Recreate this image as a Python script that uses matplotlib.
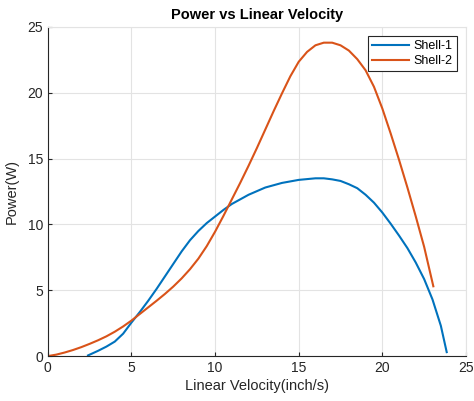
import matplotlib
matplotlib.use("Agg")
import matplotlib.pyplot as plt

plt.rcParams['font.family'] = ['Liberation Sans', 'DejaVu Sans']

# Shell-1 (blue)
v1 = [2.4, 3.0, 3.5, 4.0, 4.5, 5.0, 5.5, 6.0, 6.5, 7.0, 7.5, 8.0, 8.5, 9.0, 9.5,
      10.0, 10.5, 11.0, 11.5, 12.0, 13.0, 14.0, 15.0, 16.0, 16.5, 17.0, 17.5, 18.0,
      18.5, 19.0, 19.5, 20.0, 20.5, 21.0, 21.5, 22.0, 22.5, 23.0, 23.5, 23.85]
p1 = [0.05, 0.4, 0.72, 1.1, 1.7, 2.55, 3.35, 4.2, 5.1, 6.05, 7.0, 7.95, 8.8, 9.5, 10.1,
      10.6, 11.1, 11.55, 11.9, 12.25, 12.8, 13.15, 13.38, 13.5, 13.5, 13.42, 13.3, 13.05,
      12.75, 12.25, 11.65, 10.9, 10.05, 9.15, 8.2, 7.1, 5.85, 4.3, 2.3, 0.3]

# Shell-2 (orange)
v2 = [0, 0.5, 1.0, 1.5, 2.0, 2.5, 3.0, 3.5, 4.0, 4.5, 5.0, 5.5, 6.0, 6.5, 7.0, 7.5,
      8.0, 8.5, 9.0, 9.5, 10.0, 10.5, 11.0, 11.5, 12.0, 12.5, 13.0, 13.5, 14.0, 14.5,
      15.0, 15.5, 16.0, 16.5, 17.0, 17.5, 18.0, 18.5, 19.0, 19.5, 20.0, 20.5, 21.0,
      21.5, 22.0, 22.5, 23.05]
p2 = [0, 0.11, 0.27, 0.46, 0.68, 0.93, 1.2, 1.5, 1.85, 2.25, 2.7, 3.2, 3.7, 4.2, 4.72, 5.28,
      5.9, 6.6, 7.4, 8.35, 9.45, 10.65, 11.9, 13.15, 14.45, 15.8, 17.2, 18.6, 19.95, 21.25,
      22.35, 23.1, 23.6, 23.8, 23.8, 23.6, 23.2, 22.55, 21.7, 20.45, 18.8, 16.9, 14.9,
      12.8, 10.6, 8.3, 5.3]

fig = plt.figure(figsize=(4.74, 4.01), dpi=100)
ax = fig.add_axes([0.101, 0.112, 0.882, 0.821])

ax.plot(v1, p1, color='#0072BD', lw=1.5, label='Shell-1', solid_joinstyle='round')
ax.plot(v2, p2, color='#D95319', lw=1.5, label='Shell-2', solid_joinstyle='round')

ax.set_xlim(0, 25)
ax.set_ylim(0, 25)
ax.set_xticks([0, 5, 10, 15, 20, 25])
ax.set_yticks([0, 5, 10, 15, 20, 25])
ax.grid(True, color='#e3e3e3', lw=0.8)
ax.set_axisbelow(True)

for s in ['left', 'bottom']:
    ax.spines[s].set_color('#262626')
    ax.spines[s].set_linewidth(0.8)
for s in ['top', 'right']:
    ax.spines[s].set_color('#e3e3e3')
    ax.spines[s].set_linewidth(0.8)
ax.tick_params(direction='in', length=3, width=0.8, colors='#262626',
               labelsize=10, top=False, right=False)

ax.set_title('Power vs Linear Velocity', fontsize=10.5, fontweight='bold', pad=6)
ax.set_xlabel('Linear Velocity(inch/s)', fontsize=10.5, color='#262626', labelpad=3)
ax.set_ylabel('Power(W)', fontsize=10.5, color='#262626', labelpad=6)

leg = ax.legend(loc='upper right', fontsize=9, fancybox=False, framealpha=1,
                edgecolor='#262626', handlelength=3.0, borderaxespad=0.75,
                borderpad=0.3, labelspacing=0.25, handletextpad=0.35)
leg.get_frame().set_linewidth(0.8)

fig.savefig('out.png', dpi=100)
